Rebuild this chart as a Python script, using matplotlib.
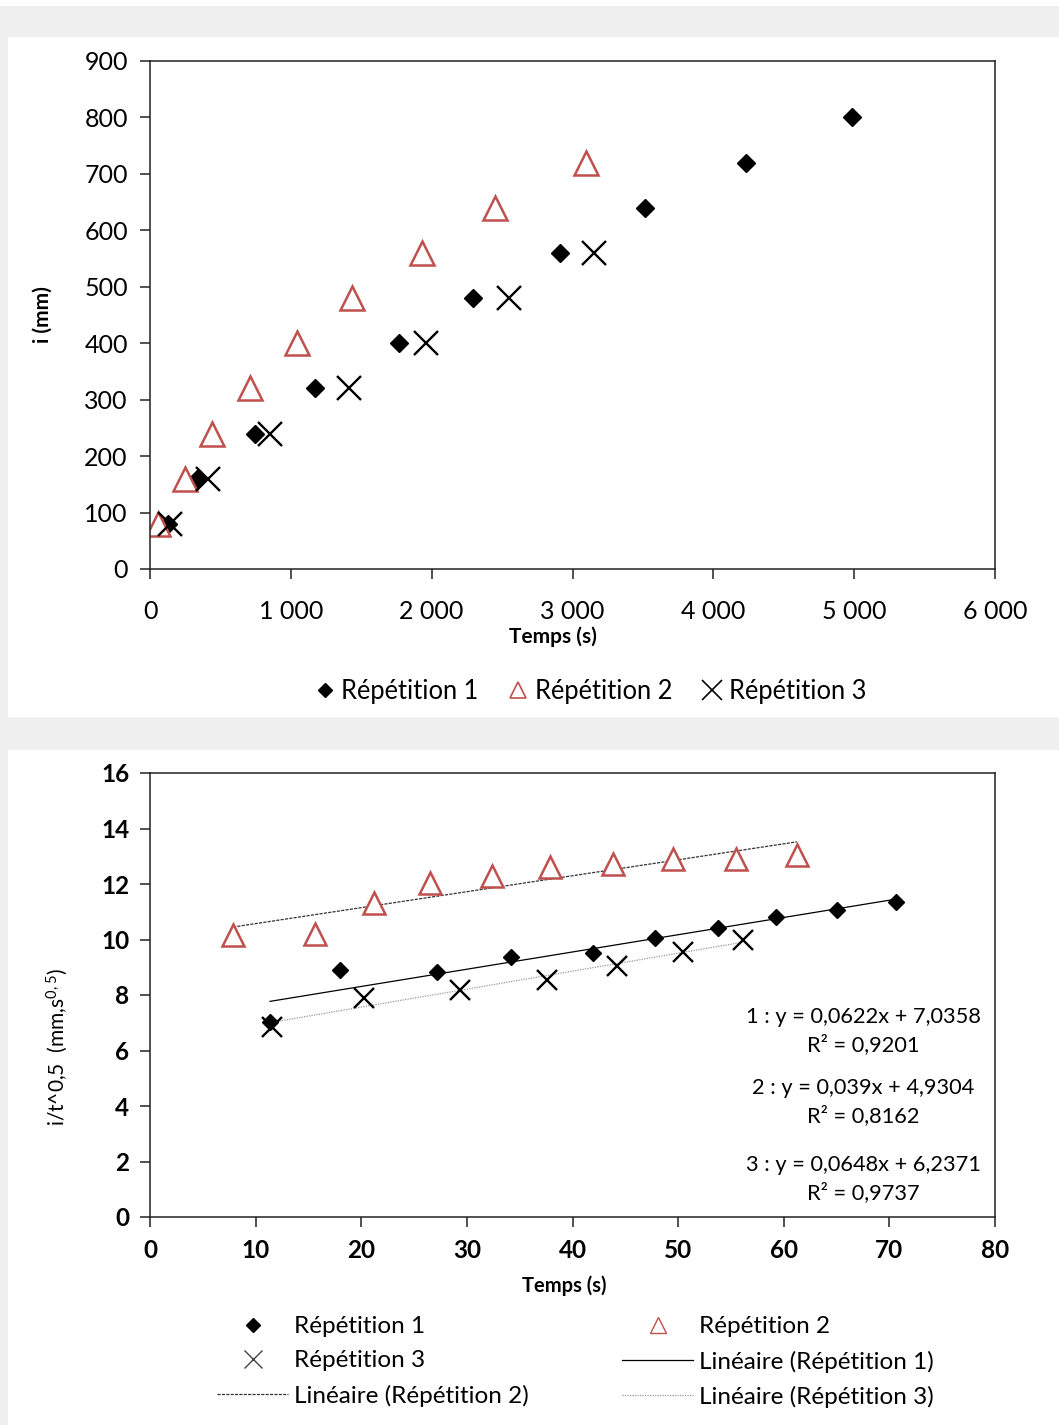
import numpy as np
import matplotlib.pyplot as plt
from matplotlib.patches import Rectangle
from matplotlib.lines import Line2D
from matplotlib.ticker import FuncFormatter

plt.rcParams['font.family'] = ['Lato', 'DejaVu Sans']
plt.rcParams['mathtext.default'] = 'regular'

# --- top chart: i (mm) vs time (s)
t_rep1 = [128, 334, 746, 1172, 1768, 2294, 2912, 3516, 4233, 4986]
i_rep1 = [80, 160, 240, 320, 400, 480, 560, 640, 720, 800]
t_rep2 = [57, 249, 440, 710, 1044, 1435, 1932, 2450, 3097]
i_rep2 = [80, 160, 240, 320, 400, 480, 560, 640, 720]
t_rep3 = [142, 412, 852, 1413, 1960, 2550, 3153]
i_rep3 = [80, 160, 240, 320, 400, 480, 560]

# --- bottom chart: i/t^0.5 vs t^0.5
x_rep1 = [11.36, 17.99, 27.17, 34.18, 41.94, 47.81, 53.78, 59.27, 65.04, 70.63]
y_rep1 = [7.03, 8.90, 8.83, 9.37, 9.51, 10.05, 10.41, 10.81, 11.06, 11.35]
x_rep2 = [7.86, 15.62, 21.20, 26.50, 32.38, 37.87, 43.83, 49.51, 55.48, 61.25]
y_rep2 = [10.16, 10.20, 11.32, 12.04, 12.29, 12.61, 12.72, 12.90, 12.90, 13.05]
x_rep3 = [11.55, 20.26, 29.35, 37.59, 44.21, 50.46, 56.14]
y_rep3 = [6.85, 7.89, 8.18, 8.54, 9.05, 9.55, 9.98]

eq_lines = ['1 : y = 0,0622x + 7,0358', 'R² = 0,9201',
            '2 : y = 0,039x + 4,9304', 'R² = 0,8162',
            '3 : y = 0,0648x + 6,2371', 'R² = 0,9737']

red = '#c0504d'
W, H = 1059, 1425

fig = plt.figure(figsize=(W / 100, H / 100), dpi=100)
fig.patch.set_facecolor('#f0f0f0')
for (x0, y0, x1, y1) in [(0, 0, W, 6), (8, 37, W, 717), (8, 750, W, H)]:
    fig.patches.append(Rectangle((x0 / W, 1 - y1 / H), (x1 - x0) / W, (y1 - y0) / H,
                                 transform=fig.transFigure, facecolor='white',
                                 edgecolor='none', zorder=-5))


def style_axes(ax, size, bold, xpad, ypad):
    for s in ax.spines.values():
        s.set_linewidth(1.1)
        s.set_color('#222222')
    ax.tick_params(direction='out', length=7, width=1.1, color='#222222', labelsize=size)
    ax.tick_params(axis='x', pad=xpad)
    ax.tick_params(axis='y', pad=ypad)
    if bold:
        for lab in ax.get_xticklabels() + ax.get_yticklabels():
            lab.set_fontweight('bold')


def center_labels(ax):
    for lab in (ax.xaxis.label, ax.yaxis.label):
        lab.set_va('center')
        lab.set_ha('center')
        lab.set_rotation_mode('anchor')


# top axes
ax1 = fig.add_axes([150 / W, 1 - 569 / H, 845 / W, 508 / H])
ax1.plot(t_rep1, i_rep1, 'D', color='black', ms=9, ls='none')
ax1.plot(t_rep2, i_rep2, '^', mfc='white', mec=red, mew=1.8, ms=17, ls='none')
ax1.plot(t_rep3, i_rep3, 'x', color='black', mew=1.7, ms=17, ls='none')
ax1.set_xlim(0, 6000)
ax1.set_ylim(0, 900)
ax1.set_xticks(range(0, 6001, 1000))
ax1.set_yticks(range(0, 901, 100))
ax1.xaxis.set_major_formatter(FuncFormatter(lambda v, p: f'{int(v):,}'.replace(',', ' ')))
style_axes(ax1, 18, False, 15, 9)
ax1.set_xlabel('Temps (s)', fontsize=15, fontweight='bold')
ax1.set_ylabel('i (mm)', fontsize=15, fontweight='bold')
center_labels(ax1)
ax1.xaxis.set_label_coords(0.477, -0.134)
ax1.yaxis.set_label_coords(-0.127, 0.5)

h_top = [Line2D([], [], marker='D', color='black', ms=7, ls='none'),
         Line2D([], [], marker='^', mfc='white', mec=red, mew=1.2, ms=12, ls='none'),
         Line2D([], [], marker='x', color='black', mew=1.2, ms=14, ls='none')]
fig.legend(h_top, ['Répétition 1', 'Répétition 2', 'Répétition 3'], ncol=3,
           loc='center', bbox_to_anchor=(591 / W, 1 - 691 / H), frameon=False,
           fontsize=18.4, handlelength=0.7, handletextpad=0.3, columnspacing=1.2)

# bottom axes
ax2 = fig.add_axes([150 / W, 1 - 1217 / H, 845 / W, 444 / H])
ax2.plot(x_rep1, y_rep1, 'D', color='black', ms=8.5, ls='none', zorder=3)
ax2.plot(x_rep2, y_rep2, '^', mfc='white', mec=red, mew=1.8, ms=16, ls='none', zorder=3)
ax2.plot(x_rep3, y_rep3, 'x', color='black', mew=1.7, ms=15, ls='none', zorder=3)

trend_styles = [dict(color='black', lw=0.9, ls='-'),
                dict(color='#333333', lw=0.9, ls=(0, (2.5, 1))),
                dict(color='#999999', lw=0.9, ls=(0, (1, 1)))]
for xs, ys, st in zip([x_rep1, x_rep2, x_rep3], [y_rep1, y_rep2, y_rep3], trend_styles):
    k, b = np.polyfit(xs, ys, 1)
    xx = np.array([min(xs), max(xs)])
    ax2.plot(xx, k * xx + b, zorder=2, **st)

ax2.set_xlim(0, 80)
ax2.set_ylim(0, 16)
ax2.set_xticks(range(0, 81, 10))
ax2.set_yticks(range(0, 17, 2))
style_axes(ax2, 17.5, True, 9, 8)
ax2.set_xlabel('Temps (s)', fontsize=14.5, fontweight='bold')
ax2.set_ylabel('i/t^0,5  (mm,s$^{0,5}$)', fontsize=15)
center_labels(ax2)
ax2.xaxis.set_label_coords(0.49, -0.155)
ax2.yaxis.set_label_coords(-0.110, 0.383)

eq_y = [1017, 1045, 1088, 1116, 1165, 1193]
for txt, yy in zip(eq_lines, eq_y):
    fig.text(863 / W, 1 - yy / H, txt, ha='center', va='center', fontsize=15.7)

h_bot = [Line2D([], [], marker='D', color='black', ms=7, ls='none'),
         Line2D([], [], marker='x', color='#444444', mew=1.0, ms=13, ls='none'),
         Line2D([], [], **trend_styles[1]),
         Line2D([], [], marker='^', mfc='white', mec=red, mew=1.0, ms=12, ls='none'),
         Line2D([], [], **trend_styles[0]),
         Line2D([], [], **trend_styles[2])]
l_bot = ['Répétition 1', 'Répétition 3', 'Linéaire (Répétition 2)',
         'Répétition 2', 'Linéaire (Répétition 1)', 'Linéaire (Répétition 3)']
fig.legend(h_bot, l_bot, ncol=2, loc='center', bbox_to_anchor=(575.5 / W, 1 - 1362 / H),
           frameon=False, fontsize=17.5, handlelength=2.9, handletextpad=0.25,
           columnspacing=3.85, labelspacing=0.55)

fig.savefig('out.png', dpi=100, facecolor=fig.get_facecolor())
